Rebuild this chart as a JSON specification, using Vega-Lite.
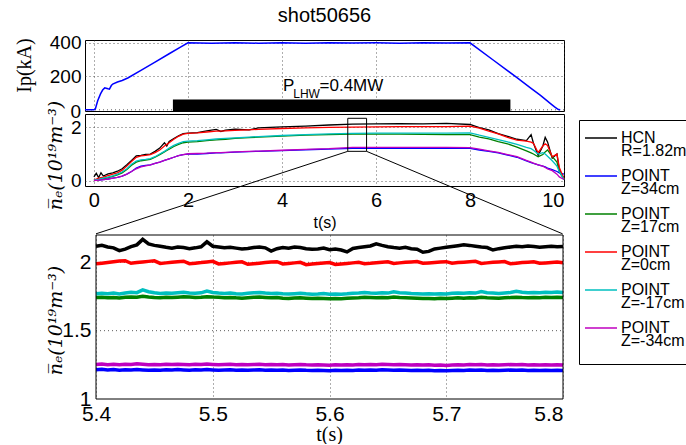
{
  "$schema": "https://vega.github.io/schema/vega-lite/v6.json",
  "padding": {"left": 13, "top": 5, "right": 0, "bottom": 0},
  "spacing": -40,
  "background": "#ffffff",
  "config": {
    "view": {"stroke": "#000000", "strokeWidth": 1},
    "axis": {
      "grid": true, "gridColor": "#333333", "gridDash": [1, 3], "gridWidth": 0.8,
      "domain": false, "ticks": false,
      "labelColor": "#000000", "titleColor": "#000000",
      "labelFont": "Liberation Sans", "titleFont": "Liberation Serif", "titleFontWeight": "normal"
    },
    "legend": {
      "orient": "none", "legendX": 494, "legendY": 80,
      "symbolType": "stroke", "symbolSize": 1024, "symbolStrokeWidth": 1.5, "symbolOffset": 4,
      "labelFont": "Liberation Sans", "labelFontSize": 16, "labelColor": "#000000",
      "strokeColor": "#000000", "fillColor": "#ffffff", "padding": 1, "rowPadding": -1, "labelOffset": 3, "labelLimit": 0,
      "titleOrient": "bottom", "titleFontSize": 10, "titlePadding": 4
    }
  },
  "datasets": {
    "ip": [
      {"t": -0.19, "ip": 0}, {"t": 0, "ip": 0}, {"t": 0.03, "ip": 5}, {"t": 0.08, "ip": 54}, {"t": 0.14, "ip": 95},
      {"t": 0.185, "ip": 118}, {"t": 0.23, "ip": 131}, {"t": 0.26, "ip": 129}, {"t": 0.3, "ip": 126}, {"t": 0.33, "ip": 124},
      {"t": 0.37, "ip": 145}, {"t": 0.4, "ip": 154}, {"t": 0.5, "ip": 166}, {"t": 0.6, "ip": 175}, {"t": 0.72, "ip": 190},
      {"t": 1.0, "ip": 236}, {"t": 1.3, "ip": 285}, {"t": 1.6, "ip": 335}, {"t": 1.85, "ip": 376}, {"t": 2.0, "ip": 400},
      {"t": 2.5, "ip": 398}, {"t": 3.0, "ip": 401}, {"t": 3.5, "ip": 398}, {"t": 4.0, "ip": 400}, {"t": 4.5, "ip": 398},
      {"t": 5.0, "ip": 401}, {"t": 5.5, "ip": 399}, {"t": 6.0, "ip": 400}, {"t": 6.5, "ip": 398}, {"t": 7.0, "ip": 401},
      {"t": 7.5, "ip": 399}, {"t": 8.0, "ip": 400}, {"t": 8.5, "ip": 296}, {"t": 9.0, "ip": 192}, {"t": 9.3, "ip": 128},
      {"t": 9.5, "ip": 86}, {"t": 9.72, "ip": 36}, {"t": 9.8, "ip": 18}, {"t": 9.88, "ip": 2}, {"t": 9.92, "ip": 0}
    ],
    "mid": [
      {"t": 0.0, "k": 0.15, "b": 0.02, "g": 0.03, "r": 0.05, "c": 0.03, "m": 0.02},
      {"t": 0.05, "k": 0.28, "b": 0.02, "g": 0.04, "r": 0.07, "c": 0.05, "m": 0.02},
      {"t": 0.1, "k": 0.12, "b": 0.03, "g": 0.05, "r": 0.1, "c": 0.06, "m": 0.03},
      {"t": 0.15, "k": 0.3, "b": 0.04, "g": 0.07, "r": 0.12, "c": 0.08, "m": 0.04},
      {"t": 0.2, "k": 0.18, "b": 0.05, "g": 0.08, "r": 0.14, "c": 0.1, "m": 0.05},
      {"t": 0.3, "k": 0.26, "b": 0.07, "g": 0.12, "r": 0.2, "c": 0.14, "m": 0.07},
      {"t": 0.4, "k": 0.3, "b": 0.1, "g": 0.17, "r": 0.25, "c": 0.19, "m": 0.1},
      {"t": 0.5, "k": 0.36, "b": 0.13, "g": 0.22, "r": 0.3, "c": 0.25, "m": 0.13},
      {"t": 0.6, "k": 0.45, "b": 0.18, "g": 0.3, "r": 0.4, "c": 0.33, "m": 0.18},
      {"t": 0.7, "k": 0.6, "b": 0.25, "g": 0.42, "r": 0.55, "c": 0.45, "m": 0.25},
      {"t": 0.8, "k": 0.76, "b": 0.35, "g": 0.58, "r": 0.72, "c": 0.62, "m": 0.35},
      {"t": 0.9, "k": 0.93, "b": 0.48, "g": 0.7, "r": 0.88, "c": 0.74, "m": 0.45},
      {"t": 1.0, "k": 0.95, "b": 0.55, "g": 0.75, "r": 0.93, "c": 0.78, "m": 0.52},
      {"t": 1.1, "k": 0.99, "b": 0.58, "g": 0.77, "r": 0.95, "c": 0.8, "m": 0.56},
      {"t": 1.2, "k": 1.0, "b": 0.6, "g": 0.8, "r": 0.98, "c": 0.83, "m": 0.6},
      {"t": 1.3, "k": 1.1, "b": 0.65, "g": 0.88, "r": 1.05, "c": 0.9, "m": 0.65},
      {"t": 1.4, "k": 1.22, "b": 0.7, "g": 0.98, "r": 1.15, "c": 1.0, "m": 0.7},
      {"t": 1.5, "k": 1.42, "b": 0.76, "g": 1.08, "r": 1.3, "c": 1.1, "m": 0.76},
      {"t": 1.55, "k": 1.3, "b": 0.79, "g": 1.13, "r": 1.36, "c": 1.16, "m": 0.79},
      {"t": 1.6, "k": 1.47, "b": 0.82, "g": 1.18, "r": 1.42, "c": 1.22, "m": 0.82},
      {"t": 1.7, "k": 1.58, "b": 0.88, "g": 1.28, "r": 1.55, "c": 1.32, "m": 0.88},
      {"t": 1.8, "k": 1.68, "b": 0.94, "g": 1.36, "r": 1.66, "c": 1.4, "m": 0.94},
      {"t": 1.9, "k": 1.76, "b": 0.98, "g": 1.42, "r": 1.74, "c": 1.46, "m": 0.98},
      {"t": 2.0, "k": 1.78, "b": 1.0, "g": 1.44, "r": 1.77, "c": 1.48, "m": 1.01},
      {"t": 2.2, "k": 1.8, "b": 1.0, "g": 1.46, "r": 1.79, "c": 1.5, "m": 1.02},
      {"t": 2.4, "k": 1.86, "b": 1.02, "g": 1.5, "r": 1.82, "c": 1.53, "m": 1.03},
      {"t": 2.6, "k": 1.92, "b": 1.04, "g": 1.53, "r": 1.85, "c": 1.56, "m": 1.05},
      {"t": 2.7, "k": 1.84, "b": 1.04, "g": 1.54, "r": 1.85, "c": 1.57, "m": 1.05},
      {"t": 2.8, "k": 1.89, "b": 1.05, "g": 1.55, "r": 1.86, "c": 1.58, "m": 1.06},
      {"t": 3.0, "k": 1.93, "b": 1.07, "g": 1.58, "r": 1.88, "c": 1.6, "m": 1.08},
      {"t": 3.3, "k": 1.9, "b": 1.09, "g": 1.61, "r": 1.9, "c": 1.63, "m": 1.1},
      {"t": 3.5, "k": 1.97, "b": 1.1, "g": 1.63, "r": 1.92, "c": 1.65, "m": 1.11},
      {"t": 4.0, "k": 2.01, "b": 1.13, "g": 1.67, "r": 1.95, "c": 1.69, "m": 1.14},
      {"t": 4.5, "k": 2.04, "b": 1.16, "g": 1.7, "r": 1.97, "c": 1.72, "m": 1.17},
      {"t": 5.0, "k": 2.08, "b": 1.18, "g": 1.72, "r": 1.99, "c": 1.75, "m": 1.2},
      {"t": 5.5, "k": 2.11, "b": 1.21, "g": 1.74, "r": 2.0, "c": 1.77, "m": 1.25},
      {"t": 6.0, "k": 2.12, "b": 1.21, "g": 1.74, "r": 2.01, "c": 1.78, "m": 1.25},
      {"t": 6.5, "k": 2.13, "b": 1.21, "g": 1.74, "r": 2.02, "c": 1.78, "m": 1.25},
      {"t": 7.0, "k": 2.12, "b": 1.21, "g": 1.73, "r": 2.02, "c": 1.78, "m": 1.25},
      {"t": 7.5, "k": 2.14, "b": 1.21, "g": 1.72, "r": 2.02, "c": 1.78, "m": 1.25},
      {"t": 8.0, "k": 2.1, "b": 1.21, "g": 1.72, "r": 2.04, "c": 1.79, "m": 1.24},
      {"t": 8.2, "k": 1.98, "b": 1.15, "g": 1.63, "r": 1.96, "c": 1.7, "m": 1.18},
      {"t": 8.4, "k": 1.9, "b": 1.1, "g": 1.56, "r": 1.85, "c": 1.62, "m": 1.12},
      {"t": 8.6, "k": 1.76, "b": 1.04, "g": 1.46, "r": 1.75, "c": 1.54, "m": 1.06},
      {"t": 8.8, "k": 1.66, "b": 0.96, "g": 1.38, "r": 1.62, "c": 1.45, "m": 0.98},
      {"t": 9.0, "k": 1.55, "b": 0.88, "g": 1.26, "r": 1.52, "c": 1.36, "m": 0.9},
      {"t": 9.2, "k": 1.5, "b": 0.74, "g": 1.12, "r": 1.48, "c": 1.25, "m": 0.76},
      {"t": 9.3, "k": 1.72, "b": 0.68, "g": 1.04, "r": 1.44, "c": 1.2, "m": 0.7},
      {"t": 9.35, "k": 1.4, "b": 0.65, "g": 1.0, "r": 1.4, "c": 1.14, "m": 0.66},
      {"t": 9.45, "k": 0.95, "b": 0.6, "g": 0.9, "r": 1.05, "c": 1.0, "m": 0.6},
      {"t": 9.55, "k": 1.3, "b": 0.55, "g": 0.98, "r": 1.3, "c": 1.05, "m": 0.55},
      {"t": 9.6, "k": 1.62, "b": 0.52, "g": 1.08, "r": 1.38, "c": 1.0, "m": 0.5},
      {"t": 9.65, "k": 1.45, "b": 0.48, "g": 1.15, "r": 1.32, "c": 0.92, "m": 0.45},
      {"t": 9.75, "k": 0.85, "b": 0.42, "g": 0.9, "r": 0.9, "c": 0.75, "m": 0.38},
      {"t": 9.85, "k": 1.0, "b": 0.35, "g": 0.7, "r": 1.0, "c": 0.55, "m": 0.25},
      {"t": 9.9, "k": 0.4, "b": 0.3, "g": 0.35, "r": 0.5, "c": 0.35, "m": 0.15},
      {"t": 10.0, "k": 0.1, "b": 0.25, "g": 0.05, "r": 0.08, "c": 0.05, "m": 0.05}
    ],
    "zoom": [
      {"t": 5.400, "k": 2.118, "b": 1.214, "g": 1.742, "r": 1.989, "c": 1.770, "m": 1.253},
      {"t": 5.405, "k": 2.124, "b": 1.217, "g": 1.744, "r": 1.994, "c": 1.774, "m": 1.256},
      {"t": 5.410, "k": 2.112, "b": 1.212, "g": 1.740, "r": 1.999, "c": 1.771, "m": 1.251},
      {"t": 5.415, "k": 2.106, "b": 1.215, "g": 1.743, "r": 2.004, "c": 1.775, "m": 1.254},
      {"t": 5.420, "k": 2.086, "b": 1.211, "g": 1.739, "r": 2.009, "c": 1.769, "m": 1.250},
      {"t": 5.425, "k": 2.097, "b": 1.214, "g": 1.745, "r": 2.012, "c": 1.776, "m": 1.255},
      {"t": 5.430, "k": 2.115, "b": 1.213, "g": 1.747, "r": 1.993, "c": 1.781, "m": 1.253},
      {"t": 5.435, "k": 2.128, "b": 1.216, "g": 1.744, "r": 1.998, "c": 1.778, "m": 1.257},
      {"t": 5.440, "k": 2.168, "b": 1.213, "g": 1.752, "r": 2.003, "c": 1.798, "m": 1.254},
      {"t": 5.445, "k": 2.135, "b": 1.210, "g": 1.746, "r": 2.007, "c": 1.785, "m": 1.251},
      {"t": 5.450, "k": 2.124, "b": 1.213, "g": 1.743, "r": 2.011, "c": 1.777, "m": 1.253},
      {"t": 5.455, "k": 2.118, "b": 1.211, "g": 1.741, "r": 1.992, "c": 1.772, "m": 1.250},
      {"t": 5.460, "k": 2.110, "b": 1.214, "g": 1.744, "r": 1.996, "c": 1.775, "m": 1.254},
      {"t": 5.465, "k": 2.104, "b": 1.212, "g": 1.742, "r": 2.000, "c": 1.773, "m": 1.252},
      {"t": 5.470, "k": 2.112, "b": 1.215, "g": 1.745, "r": 2.004, "c": 1.778, "m": 1.255},
      {"t": 5.475, "k": 2.108, "b": 1.213, "g": 1.748, "r": 2.008, "c": 1.781, "m": 1.253},
      {"t": 5.480, "k": 2.100, "b": 1.211, "g": 1.746, "r": 1.990, "c": 1.776, "m": 1.250},
      {"t": 5.485, "k": 2.106, "b": 1.214, "g": 1.743, "r": 1.994, "c": 1.774, "m": 1.254},
      {"t": 5.490, "k": 2.114, "b": 1.212, "g": 1.745, "r": 1.998, "c": 1.777, "m": 1.252},
      {"t": 5.495, "k": 2.150, "b": 1.215, "g": 1.749, "r": 2.003, "c": 1.790, "m": 1.256},
      {"t": 5.500, "k": 2.118, "b": 1.213, "g": 1.746, "r": 2.007, "c": 1.780, "m": 1.253},
      {"t": 5.505, "k": 2.112, "b": 1.210, "g": 1.744, "r": 1.988, "c": 1.775, "m": 1.250},
      {"t": 5.510, "k": 2.106, "b": 1.212, "g": 1.741, "r": 1.992, "c": 1.772, "m": 1.252},
      {"t": 5.515, "k": 2.110, "b": 1.214, "g": 1.743, "r": 1.996, "c": 1.775, "m": 1.254},
      {"t": 5.520, "k": 2.104, "b": 1.211, "g": 1.740, "r": 2.000, "c": 1.771, "m": 1.251},
      {"t": 5.525, "k": 2.098, "b": 1.213, "g": 1.738, "r": 2.004, "c": 1.769, "m": 1.253},
      {"t": 5.530, "k": 2.102, "b": 1.210, "g": 1.741, "r": 1.986, "c": 1.773, "m": 1.250},
      {"t": 5.535, "k": 2.108, "b": 1.212, "g": 1.744, "r": 1.990, "c": 1.777, "m": 1.252},
      {"t": 5.540, "k": 2.112, "b": 1.214, "g": 1.746, "r": 1.994, "c": 1.780, "m": 1.254},
      {"t": 5.545, "k": 2.106, "b": 1.211, "g": 1.743, "r": 1.998, "c": 1.775, "m": 1.251},
      {"t": 5.550, "k": 2.082, "b": 1.213, "g": 1.740, "r": 2.002, "c": 1.772, "m": 1.253},
      {"t": 5.555, "k": 2.100, "b": 1.210, "g": 1.742, "r": 2.005, "c": 1.774, "m": 1.250},
      {"t": 5.560, "k": 2.108, "b": 1.212, "g": 1.738, "r": 1.988, "c": 1.770, "m": 1.252},
      {"t": 5.565, "k": 2.104, "b": 1.209, "g": 1.736, "r": 1.992, "c": 1.768, "m": 1.249},
      {"t": 5.570, "k": 2.112, "b": 1.211, "g": 1.739, "r": 1.996, "c": 1.771, "m": 1.251},
      {"t": 5.575, "k": 2.108, "b": 1.213, "g": 1.741, "r": 2.000, "c": 1.774, "m": 1.253},
      {"t": 5.580, "k": 2.100, "b": 1.210, "g": 1.738, "r": 1.983, "c": 1.770, "m": 1.250},
      {"t": 5.585, "k": 2.096, "b": 1.208, "g": 1.735, "r": 1.987, "c": 1.767, "m": 1.248},
      {"t": 5.590, "k": 2.098, "b": 1.211, "g": 1.737, "r": 1.991, "c": 1.769, "m": 1.251},
      {"t": 5.595, "k": 2.104, "b": 1.209, "g": 1.736, "r": 1.995, "c": 1.772, "m": 1.249},
      {"t": 5.600, "k": 2.092, "b": 1.207, "g": 1.733, "r": 1.998, "c": 1.766, "m": 1.247},
      {"t": 5.605, "k": 2.098, "b": 1.210, "g": 1.736, "r": 1.984, "c": 1.769, "m": 1.250},
      {"t": 5.610, "k": 2.090, "b": 1.208, "g": 1.734, "r": 1.988, "c": 1.767, "m": 1.248},
      {"t": 5.615, "k": 2.076, "b": 1.211, "g": 1.737, "r": 1.992, "c": 1.770, "m": 1.251},
      {"t": 5.620, "k": 2.102, "b": 1.209, "g": 1.739, "r": 1.996, "c": 1.774, "m": 1.249},
      {"t": 5.625, "k": 2.108, "b": 1.212, "g": 1.741, "r": 2.000, "c": 1.776, "m": 1.252},
      {"t": 5.630, "k": 2.114, "b": 1.210, "g": 1.744, "r": 1.990, "c": 1.779, "m": 1.250},
      {"t": 5.635, "k": 2.120, "b": 1.213, "g": 1.742, "r": 1.993, "c": 1.776, "m": 1.253},
      {"t": 5.640, "k": 2.136, "b": 1.211, "g": 1.740, "r": 1.997, "c": 1.774, "m": 1.251},
      {"t": 5.645, "k": 2.124, "b": 1.214, "g": 1.743, "r": 2.001, "c": 1.777, "m": 1.254},
      {"t": 5.650, "k": 2.114, "b": 1.212, "g": 1.741, "r": 2.004, "c": 1.775, "m": 1.252},
      {"t": 5.655, "k": 2.108, "b": 1.210, "g": 1.746, "r": 1.992, "c": 1.785, "m": 1.250},
      {"t": 5.660, "k": 2.104, "b": 1.213, "g": 1.743, "r": 1.996, "c": 1.778, "m": 1.253},
      {"t": 5.665, "k": 2.110, "b": 1.211, "g": 1.741, "r": 2.000, "c": 1.775, "m": 1.251},
      {"t": 5.670, "k": 2.100, "b": 1.209, "g": 1.739, "r": 2.003, "c": 1.772, "m": 1.249},
      {"t": 5.675, "k": 2.096, "b": 1.211, "g": 1.737, "r": 2.006, "c": 1.770, "m": 1.251},
      {"t": 5.680, "k": 2.074, "b": 1.208, "g": 1.735, "r": 1.993, "c": 1.768, "m": 1.248},
      {"t": 5.685, "k": 2.080, "b": 1.210, "g": 1.736, "r": 1.996, "c": 1.770, "m": 1.250},
      {"t": 5.690, "k": 2.098, "b": 1.207, "g": 1.734, "r": 1.999, "c": 1.768, "m": 1.247},
      {"t": 5.695, "k": 2.104, "b": 1.209, "g": 1.737, "r": 2.002, "c": 1.771, "m": 1.249},
      {"t": 5.700, "k": 2.110, "b": 1.206, "g": 1.735, "r": 2.005, "c": 1.769, "m": 1.246},
      {"t": 5.705, "k": 2.116, "b": 1.209, "g": 1.738, "r": 1.994, "c": 1.773, "m": 1.249},
      {"t": 5.710, "k": 2.122, "b": 1.211, "g": 1.740, "r": 1.998, "c": 1.776, "m": 1.251},
      {"t": 5.715, "k": 2.128, "b": 1.209, "g": 1.738, "r": 2.001, "c": 1.774, "m": 1.249},
      {"t": 5.720, "k": 2.124, "b": 1.212, "g": 1.741, "r": 2.004, "c": 1.777, "m": 1.252},
      {"t": 5.725, "k": 2.118, "b": 1.210, "g": 1.739, "r": 2.007, "c": 1.775, "m": 1.250},
      {"t": 5.730, "k": 2.112, "b": 1.212, "g": 1.745, "r": 1.992, "c": 1.786, "m": 1.252},
      {"t": 5.735, "k": 2.108, "b": 1.209, "g": 1.741, "r": 1.996, "c": 1.778, "m": 1.249},
      {"t": 5.740, "k": 2.090, "b": 1.211, "g": 1.739, "r": 2.000, "c": 1.775, "m": 1.251},
      {"t": 5.745, "k": 2.100, "b": 1.208, "g": 1.737, "r": 2.003, "c": 1.772, "m": 1.248},
      {"t": 5.750, "k": 2.106, "b": 1.210, "g": 1.740, "r": 2.006, "c": 1.776, "m": 1.250},
      {"t": 5.755, "k": 2.112, "b": 1.212, "g": 1.742, "r": 1.990, "c": 1.779, "m": 1.252},
      {"t": 5.760, "k": 2.118, "b": 1.210, "g": 1.745, "r": 1.994, "c": 1.788, "m": 1.250},
      {"t": 5.765, "k": 2.114, "b": 1.212, "g": 1.742, "r": 1.998, "c": 1.781, "m": 1.252},
      {"t": 5.770, "k": 2.120, "b": 1.209, "g": 1.740, "r": 2.001, "c": 1.778, "m": 1.249},
      {"t": 5.775, "k": 2.116, "b": 1.211, "g": 1.743, "r": 2.004, "c": 1.780, "m": 1.251},
      {"t": 5.780, "k": 2.110, "b": 1.209, "g": 1.741, "r": 1.993, "c": 1.777, "m": 1.249},
      {"t": 5.785, "k": 2.114, "b": 1.211, "g": 1.744, "r": 1.996, "c": 1.781, "m": 1.251},
      {"t": 5.790, "k": 2.118, "b": 1.209, "g": 1.742, "r": 1.999, "c": 1.779, "m": 1.249},
      {"t": 5.795, "k": 2.114, "b": 1.211, "g": 1.745, "r": 2.002, "c": 1.782, "m": 1.251},
      {"t": 5.800, "k": 2.116, "b": 1.209, "g": 1.743, "r": 1.997, "c": 1.780, "m": 1.249}
    ]
  },
  "vconcat": [
    {
      "title": {"text": "shot50656", "font": "Liberation Sans", "fontSize": 20, "fontWeight": "normal", "color": "#000000", "offset": 8},
      "width": 479,
      "height": 71,
      "layer": [
        {
          "data": {"values": [{"v": 0}]},
          "mark": {"type": "rule", "color": "#333333", "strokeDash": [1, 3], "strokeWidth": 0.8},
          "encoding": {
            "y": {"field": "v", "type": "quantitative", "scale": {"domain": [-7, 417], "nice": false}}
          }
        },
        {
          "data": {"name": "ip"},
          "mark": {"type": "line", "color": "#0000ff", "strokeWidth": 1.5},
          "encoding": {
            "x": {"field": "t", "type": "quantitative", "scale": {"domain": [-0.19, 10], "nice": false, "zero": false},
                  "axis": {"values": [0, 2, 4, 6, 8, 10], "labels": false, "title": null, "minExtent": 0, "maxExtent": 0, "labelPadding": 0}},
            "y": {"field": "ip", "type": "quantitative", "scale": {"domain": [-7, 417], "nice": false},
                  "axis": {"values": [200, 400], "title": "Ip(kA)", "titleFontSize": 20, "labelFontSize": 19, "labelPadding": 4, "titlePadding": 15, "titleY": 25}}
          }
        },
        {
          "data": {"values": [{"t0": 1.68, "t1": 8.86, "v0": -7, "v1": 61}]},
          "mark": {"type": "rect", "color": "#000000"},
          "encoding": {
            "x": {"field": "t0", "type": "quantitative", "scale": {"domain": [-0.19, 10], "nice": false, "zero": false}},
            "x2": {"field": "t1"},
            "y": {"field": "v0", "type": "quantitative", "scale": {"domain": [-7, 417], "nice": false}},
            "y2": {"field": "v1"}
          }
        },
        {
          "data": {"values": [{"t": 4.02, "v": 113, "s": "P"}, {"t": 4.8, "v": 113, "s": "=0.4MW"}]},
          "mark": {"type": "text", "align": "left", "baseline": "alphabetic", "font": "Liberation Sans", "fontSize": 17, "color": "#000000"},
          "encoding": {
            "x": {"field": "t", "type": "quantitative", "scale": {"domain": [-0.19, 10], "nice": false, "zero": false}},
            "y": {"field": "v", "type": "quantitative", "scale": {"domain": [-7, 417], "nice": false}},
            "text": {"field": "s"}
          }
        },
        {
          "data": {"values": [{"t": 4.24, "v": 72, "s": "LHW"}]},
          "mark": {"type": "text", "align": "left", "baseline": "alphabetic", "font": "Liberation Sans", "fontSize": 12, "color": "#000000"},
          "encoding": {
            "x": {"field": "t", "type": "quantitative", "scale": {"domain": [-0.19, 10], "nice": false, "zero": false}},
            "y": {"field": "v", "type": "quantitative", "scale": {"domain": [-7, 417], "nice": false}},
            "text": {"field": "s"}
          }
        }
      ]
    },
    {
      "width": 479,
      "height": 72,
      "layer": [
        {
          "data": {"name": "mid"},
          "transform": [{"fold": ["k", "b", "g", "r", "c", "m"], "as": ["key", "v"]}],
          "mark": {"type": "line", "strokeWidth": 1.3},
          "encoding": {
            "x": {"field": "t", "type": "quantitative", "scale": {"domain": [-0.19, 10], "nice": false, "zero": false},
                  "axis": {"values": [0, 2, 4, 6, 8, 10], "title": "t(s)", "titleFont": "Liberation Sans", "titleFontSize": 16, "labelFontSize": 20, "labelPadding": 4, "titlePadding": 4}},
            "y": {"field": "v", "type": "quantitative", "scale": {"domain": [-0.19, 2.49], "nice": false},
                  "axis": {"values": [0, 1, 2], "title": "n̅ₑ(10¹⁹m⁻³)", "titleFont": "DejaVu Serif", "titleFontStyle": "italic", "titleFontSize": 19, "labelFontSize": 19, "labelPadding": 4, "titleX": -20, "titleBaseline": "bottom", "titleY": 41}},
            "color": {"field": "key", "type": "nominal",
                      "scale": {"domain": ["k", "b", "g", "r", "c", "m"], "range": ["#000000", "#0000ff", "#008000", "#ff0000", "#00bfbf", "#bf00bf"]},
                      "legend": {"title": " ",
                                 "labelExpr": "datum.value == 'k' ? ['HCN','R=1.82m'] : datum.value == 'b' ? ['POINT','Z=34cm'] : datum.value == 'g' ? ['POINT','Z=17cm'] : datum.value == 'r' ? ['POINT','Z=0cm'] : datum.value == 'c' ? ['POINT','Z=-17cm'] : ['POINT','Z=-34cm']",
                                 "encode": {"labels": {"update": {"lineHeight": {"value": 12.5}}}}}}
          }
        },
        {
          "data": {"values": [{"t": -0.19, "v": 2.553, "s": "0"}]},
          "mark": {"type": "text", "align": "right", "baseline": "middle", "dx": -4, "font": "Liberation Sans", "fontSize": 19, "color": "#000000"},
          "encoding": {
            "x": {"field": "t", "type": "quantitative", "scale": {"domain": [-0.19, 10], "nice": false, "zero": false}},
            "y": {"field": "v", "type": "quantitative", "scale": {"domain": [-0.19, 2.49], "nice": false}},
            "text": {"field": "s"}
          }
        },
        {
          "data": {"values": [{"t0": 5.4, "t1": 5.8, "v0": 1.1, "v1": 2.33}]},
          "mark": {"type": "rect", "fillOpacity": 0, "stroke": "#000000", "strokeWidth": 1},
          "encoding": {
            "x": {"field": "t0", "type": "quantitative", "scale": {"domain": [-0.19, 10], "nice": false, "zero": false}},
            "x2": {"field": "t1"},
            "y": {"field": "v0", "type": "quantitative", "scale": {"domain": [-0.19, 2.49], "nice": false}},
            "y2": {"field": "v1"}
          }
        },
        {
          "data": {"values": [{"xa": 5.4, "ya": 1.1, "xb": 0.044, "yb": -1.97}, {"xa": 5.8, "ya": 1.1, "xb": 9.97, "yb": -1.97}]},
          "mark": {"type": "rule", "color": "#000000", "strokeWidth": 1},
          "encoding": {
            "x": {"field": "xa", "type": "quantitative", "scale": {"domain": [-0.19, 10], "nice": false, "zero": false}},
            "x2": {"field": "xb"},
            "y": {"field": "ya", "type": "quantitative", "scale": {"domain": [-0.19, 2.49], "nice": false}},
            "y2": {"field": "yb"}
          }
        }
      ]
    },
    {
      "width": 478,
      "height": 164,
      "view": {"stroke": null},
      "layer": [
        {
          "data": {"values": [{"g": 1.5, "xa": 5.4, "xb": 5.8}, {"g": 2, "xa": 5.4, "xb": 5.8}]},
          "mark": {"type": "rule", "color": "#333333", "strokeDash": [1, 3], "strokeWidth": 0.8},
          "encoding": {
            "x": {"field": "xa", "type": "quantitative", "scale": {"domain": [5.39057, 5.8], "nice": false, "zero": false}},
            "x2": {"field": "xb"},
            "y": {"field": "g", "type": "quantitative", "scale": {"domain": [1, 2.2], "nice": false, "zero": false}}
          }
        },
        {
          "data": {"name": "zoom"},
          "transform": [{"fold": ["k", "b", "g", "r", "c", "m"], "as": ["key", "v"]}],
          "mark": {"type": "line", "strokeWidth": 3.5},
          "encoding": {
            "x": {"field": "t", "type": "quantitative", "scale": {"domain": [5.39057, 5.8], "nice": false, "zero": false},
                  "axis": {"values": [5.4, 5.5, 5.6, 5.7, 5.8], "format": ".1f", "title": "t(s)", "titleFontSize": 20, "labelFontSize": 21, "labelPadding": 4, "titlePadding": 0, "titleX": 244}},
            "y": {"field": "v", "type": "quantitative", "scale": {"domain": [1, 2.2], "nice": false, "zero": false},
                  "axis": {"values": [1, 1.5, 2], "format": "~g", "grid": false, "title": "n̅ₑ(10¹⁹m⁻³)", "titleFont": "DejaVu Serif", "titleFontStyle": "italic", "titleFontSize": 19, "labelFontSize": 21, "labelPadding": -6, "titleX": -20, "titleBaseline": "bottom", "titleY": 85}},
            "color": {"field": "key", "type": "nominal",
                      "scale": {"domain": ["k", "b", "g", "r", "c", "m"], "range": ["#000000", "#0000ff", "#008000", "#ff0000", "#00bfbf", "#bf00bf"]}}
          }
        },
        {
          "data": {"values": [{"xa": 5.4, "xb": 5.8, "ya": 1, "yb": 2.2}]},
          "mark": {"type": "rect", "fillOpacity": 0, "stroke": "#000000", "strokeWidth": 1},
          "encoding": {
            "x": {"field": "xa", "type": "quantitative", "scale": {"domain": [5.39057, 5.8], "nice": false, "zero": false}},
            "x2": {"field": "xb"},
            "y": {"field": "ya", "type": "quantitative", "scale": {"domain": [1, 2.2], "nice": false, "zero": false}},
            "y2": {"field": "yb"}
          }
        }
      ]
    }
  ]
}
